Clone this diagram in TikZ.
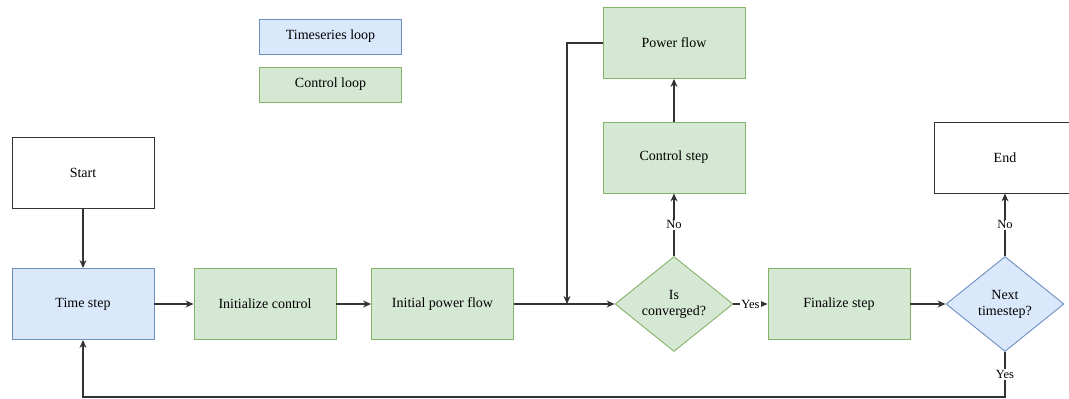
\documentclass[tikz,border=0pt]{standalone}
\usepackage{fontspec}
\setmainfont{Liberation Serif}
\usetikzlibrary{shapes.geometric,arrows.meta}
\definecolor{bfill}{HTML}{DAE8FC}
\definecolor{bdraw}{HTML}{6C8EBF}
\definecolor{gfill}{HTML}{D5E8D4}
\definecolor{gdraw}{HTML}{82B366}
\definecolor{ln}{HTML}{333333}
\tikzset{
  box/.style={rectangle, minimum width=142pt, minimum height=71pt, inner sep=2pt, line width=0.9pt, font=\fontsize{14}{16}\selectfont, align=center},
  plain/.style={box, draw=ln, fill=white},
  blue/.style={box, draw=bdraw, fill=bfill},
  green/.style={box, draw=gdraw, fill=gfill},
  legend/.style={minimum height=35pt},
  dia/.style={diamond, minimum width=118pt, minimum height=95pt, inner sep=0pt, line width=0.9pt, font=\fontsize{14}{16}\selectfont, align=center},
  arr/.style={draw=ln, line width=1.1pt, -{Stealth[length=8pt,width=7pt]}},
  lbl/.style={fill=white, inner sep=1pt, font=\fontsize{12.5}{14}\selectfont},
}
\begin{document}
\begin{tikzpicture}[x=1pt,y=-1pt]
\useasboundingbox (0,0) rectangle (1069,399);
% legend
\node[blue, legend] (lts) at (330.5,36.5) {Timeseries loop};
\node[green, legend] (lcl) at (330.5,84.5) {Control loop};
% nodes
\node[plain] (start) at (83,172.5) {Start};
\node[blue] (ts) at (83,304) {Time step};
\node[green] (ic) at (265,304) {Initialize control};
\node[green] (ipf) at (442.5,304) {Initial power flow};
\node[dia, draw=gdraw, fill=gfill] (conv) at (674,304) {Is\\converged?};
\node[green] (cs) at (674,157.5) {Control step};
\node[green] (pf) at (674,43) {Power flow};
\node[green] (fin) at (839,304) {Finalize step};
\node[dia, draw=bdraw, fill=bfill] (next) at (1005,304) {Next\\timestep?};
\node[plain] (end) at (1005,157.5) {End};
\coordinate (j) at (567,304);
\coordinate (b) at (1005,397);
% connectors
\draw[arr] (start.south) -- (ts.north);
\draw[arr] (ts.east) -- (ic.west);
\draw[arr] (ic.east) -- (ipf.west);
\draw[arr] (ipf.east) -- (conv.west);
\draw[arr] (conv.north) -- node[lbl]{No} (cs.south);
\draw[arr] (cs.north) -- (pf.south);
\draw[arr] (pf.west) -| (j);
\draw[arr] (conv.east) -- node[lbl]{Yes} (fin.west);
\draw[arr] (fin.east) -- (next.west);
\draw[arr] (next.north) -- node[lbl]{No} (end.south);
\draw[arr] (next.south) -- node[lbl]{Yes} (b) -| (ts.south);
\end{tikzpicture}
\end{document}
